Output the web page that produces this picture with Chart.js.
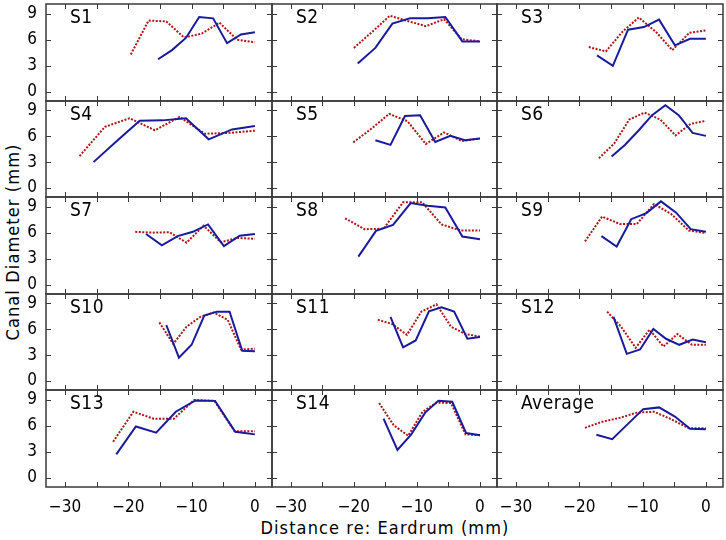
<!DOCTYPE html>
<html>
<head>
<meta charset="utf-8">
<script src="https://cdn.jsdelivr.net/npm/chart.js@4"></script>
<style>
body { margin: 0; background: #fff; width: 726px; height: 540px; position: relative; overflow: hidden;
       font-family: "DejaVu Sans Condensed", "DejaVu Sans", sans-serif; }
canvas { position: absolute; }
.ttl { position: absolute; font-size: 18px; letter-spacing: 1.1px; color: #000; white-space: nowrap; }
#xt { left: 385px; top: 527px; transform: translate(-50%, -50%); }
#yt { left: 12px; top: 242px; transform: translate(-50%, -50%) rotate(-90deg); }
</style>
</head>
<body>
<div class="ttl" id="xt">Distance re: Eardrum (mm)</div>
<div class="ttl" id="yt">Canal Diameter (mm)</div>
<script>
// panel names, in reading order (3 per row)
const panelNames = ['S1','S2','S3','S4','S5','S6','S7','S8','S9','S10','S11','S12','S13','S14','Average'];

// solid blue series
const blueX = [
  [-15.3,-13.1,-10.9,-8.8,-6.6,-4.4,-2.2,0],
  [-19.4,-16.6,-13.9,-11.1,-8.3,-5.5,-2.8,0],
  [-17.2,-14.7,-12.3,-9.8,-7.4,-4.9,-2.5,0],
  [-25.5,-21.9,-18.2,-14.6,-10.9,-7.3,-3.6,0],
  [-16.6,-14.2,-11.9,-9.5,-7.1,-4.7,-2.4,0],
  [-14.9,-12.8,-10.6,-8.5,-6.4,-4.3,-2.1,0],
  [-17.2,-14.7,-12.2,-9.8,-7.4,-4.9,-2.4,0],
  [-19.3,-16.5,-13.8,-11.0,-8.3,-5.5,-2.8,0],
  [-16.5,-14.1,-11.8,-9.4,-7.1,-4.7,-2.4,0],
  [-14.0,-12.0,-10.0,-8.0,-6.0,-4.0,-2.0,0],
  [-14.2,-12.2,-10.2,-8.1,-6.1,-4.1,-2.0,0],
  [-14.6,-12.5,-10.4,-8.3,-6.3,-4.2,-2.1,0],
  [-21.9,-18.8,-15.6,-12.5,-9.4,-6.3,-3.1,0],
  [-15.3,-13.1,-10.9,-8.7,-6.6,-4.4,-2.2,0],
  [-17.3,-14.8,-12.4,-9.9,-7.4,-4.9,-2.5,0]
];
const blueY = [
  [3.75,4.8,6.2,8.6,8.45,5.6,6.6,6.85],
  [3.25,5.05,7.85,8.45,8.45,8.6,5.8,5.8],
  [4.2,3.0,7.15,7.45,8.3,5.35,6.1,6.1],
  [3.0,5.4,7.8,7.85,8.1,5.65,6.8,7.2],
  [5.55,5.0,8.35,8.45,5.35,6.05,5.55,5.75],
  [3.65,5.0,6.7,8.45,9.6,8.45,6.4,6.05],
  [5.85,4.55,5.6,6.1,6.95,4.45,5.65,5.85],
  [3.25,6.2,6.9,9.4,9.1,8.9,5.55,5.25],
  [5.6,4.4,7.55,8.25,9.6,8.3,6.4,6.1],
  [6.5,2.7,4.2,7.6,8.05,8.05,3.5,3.45],
  [7.45,3.9,4.7,8.1,8.55,8.05,4.9,5.1],
  [7.45,3.15,3.65,6.05,4.9,4.2,4.8,4.5],
  [2.7,5.9,5.2,7.6,8.9,8.85,5.3,5.0],
  [6.8,3.2,5.0,7.5,8.85,8.75,5.15,4.9],
  [4.95,4.45,6.15,7.9,8.1,7.05,5.65,5.6]
];

// dotted red series
const redX = [
  [-19.6,-16.8,-14.0,-11.2,-8.4,-5.6,-2.8,0],
  [-20.0,-17.1,-14.3,-11.5,-8.6,-5.7,-2.9,0],
  [-18.5,-15.8,-13.2,-10.6,-7.9,-5.3,-2.6,0],
  [-27.7,-23.7,-19.8,-15.8,-11.9,-7.9,-4.0,0],
  [-20.1,-17.2,-14.4,-11.5,-8.6,-5.7,-2.9,0],
  [-16.9,-14.5,-12.1,-9.7,-7.2,-4.8,-2.4,0],
  [-18.9,-16.2,-13.5,-10.8,-8.1,-5.4,-2.7,0],
  [-21.4,-18.3,-15.3,-12.2,-9.2,-6.1,-3.1,0],
  [-19.1,-16.4,-13.6,-10.9,-8.2,-5.5,-2.7,0],
  [-15.1,-12.9,-10.8,-8.6,-6.5,-4.3,-2.2,0],
  [-16.2,-13.9,-11.6,-9.3,-6.9,-4.6,-2.3,0],
  [-15.6,-13.4,-11.1,-8.9,-6.7,-4.5,-2.2,0],
  [-22.4,-19.2,-16.0,-12.8,-9.6,-6.4,-3.2,0],
  [-16.0,-13.7,-11.4,-9.1,-6.9,-4.6,-2.3,0],
  [-19.1,-16.4,-13.6,-10.9,-8.2,-5.5,-2.7,0]
];
const redY = [
  [4.3,8.2,8.1,6.25,6.7,7.95,6.0,5.7],
  [5.05,6.9,8.75,8.15,7.55,8.35,6.05,5.8],
  [5.15,4.65,6.9,8.55,6.9,4.8,6.8,7.05],
  [3.7,7.1,8.1,6.7,8.25,6.3,6.4,6.65],
  [5.3,6.9,8.6,7.75,5.1,6.45,5.45,5.75],
  [3.45,5.15,7.95,8.75,7.95,6.1,7.45,7.8],
  [6.1,6.0,6.05,4.85,6.8,4.9,5.4,5.3],
  [7.65,6.4,6.45,9.5,9.5,6.95,6.25,6.25],
  [5.0,7.85,7.0,7.0,9.3,8.15,6.25,5.95],
  [6.8,4.3,6.3,7.45,7.95,7.1,3.65,3.75],
  [7.1,6.6,5.35,8.05,8.9,6.3,5.45,5.15],
  [8.05,6.3,3.85,5.95,4.0,5.45,4.2,4.2],
  [4.15,7.6,6.8,6.8,8.95,8.85,5.35,5.35],
  [8.6,6.05,4.85,7.6,8.65,8.6,5.0,4.9],
  [5.75,6.45,6.9,7.5,7.6,6.75,5.7,5.7]
];

const xTicks = [-30,-25,-20,-15,-10,-5,0];
const yTicks = [0,3,6,9];

const FONT = '"DejaVu Sans Condensed", "DejaVu Sans", sans-serif';
const BLUE = '#1a1a9c';
const RED = '#ad1616';
const FRAME = '#3a3a3a';

// frame, inward tick marks and panel name
const framePlugin = {
  id: 'frame',
  afterDraw(chart, args, opts) {
    const {ctx, chartArea: a} = chart;
    const x = chart.scales.x, y = chart.scales.y;
    ctx.save();
    ctx.strokeStyle = FRAME;
    ctx.lineWidth = 1.5;
    ctx.strokeRect(a.left, a.top, a.right - a.left, a.bottom - a.top);
    ctx.lineWidth = 1;
    ctx.beginPath();
    xTicks.forEach(v => {
      const px = Math.round(x.getPixelForValue(v)) + 0.5;
      ctx.moveTo(px, a.top); ctx.lineTo(px, a.top + 5);
      ctx.moveTo(px, a.bottom); ctx.lineTo(px, a.bottom - 5);
    });
    yTicks.forEach(v => {
      const py = Math.round(y.getPixelForValue(v)) + 0.5;
      ctx.moveTo(a.left, py); ctx.lineTo(a.left + 5, py);
      ctx.moveTo(a.right, py); ctx.lineTo(a.right - 5, py);
    });
    ctx.stroke();
    ctx.fillStyle = '#000';
    ctx.font = '19px ' + FONT;
    ctx.letterSpacing = '0.5px';
    ctx.textBaseline = 'middle';
    ctx.fillText(opts.name, a.left + 24, a.top + 14);
    ctx.restore();
  }
};

const pts = (xs, ys) => xs.map((v, i) => ({x: v, y: ys[i]}));

panelNames.forEach((name, i) => {
  const r = Math.floor(i / 3), c = i % 3;
  const left = Math.round(46 + c * 225.7), right = Math.round(46 + (c + 1) * 225.7);
  const top = Math.round(4 + r * 96.6), bottom = Math.round(4 + (r + 1) * 96.6);
  const padL = c === 0 ? 46 : 2;
  const padB = r === 4 ? 36 : 2;

  const cv = document.createElement('canvas');
  cv.width = right - left + padL + 2;
  cv.height = bottom - top + padB + 2;
  cv.style.left = (left - padL) + 'px';
  cv.style.top = (top - 2) + 'px';
  document.body.appendChild(cv);

  new Chart(cv, {
    type: 'scatter',
    data: {
      datasets: [
        { data: pts(blueX[i], blueY[i]), showLine: true, borderColor: BLUE, borderWidth: 2,
          pointRadius: 0, fill: false },
        { data: pts(redX[i], redY[i]), showLine: true, borderColor: RED, borderWidth: 2,
          borderDash: [2, 1.5], pointRadius: 0, fill: false }
      ]
    },
    options: {
      responsive: false,
      animation: false,
      layout: { padding: { left: c === 0 ? 0 : 2, right: 2, top: 2, bottom: r === 4 ? 0 : 2 } },
      plugins: { legend: { display: false }, tooltip: { enabled: false }, frame: { name: name } },
      scales: {
        x: {
          type: 'linear', min: -33, max: 2.7,
          grid: { display: false, drawTicks: false }, border: { display: false },
          afterBuildTicks: s => { s.ticks = xTicks.map(v => ({value: v})); },
          afterFit: s => { s.height = r === 4 ? 36 : 0; s.paddingLeft = 0; s.paddingRight = 0; },
          ticks: {
            display: r === 4, padding: 10, color: '#000', maxRotation: 0, autoSkip: false,
            font: { family: FONT, size: 17 },
            callback: v => (v % 10 === 0 ? String(v).replace('-', '\u2212') : '')
          }
        },
        y: {
          type: 'linear', min: -1.05, max: 10.1,
          grid: { display: false, drawTicks: false }, border: { display: false },
          afterBuildTicks: s => { s.ticks = yTicks.map(v => ({value: v})); },
          afterFit: s => { s.width = c === 0 ? 46 : 0; s.paddingTop = 0; s.paddingBottom = 0; },
          ticks: {
            display: c === 0, padding: 9, color: '#000',
            font: { family: FONT, size: 17 }
          }
        }
      }
    },
    plugins: [framePlugin]
  });
});
</script>
</body>
</html>
